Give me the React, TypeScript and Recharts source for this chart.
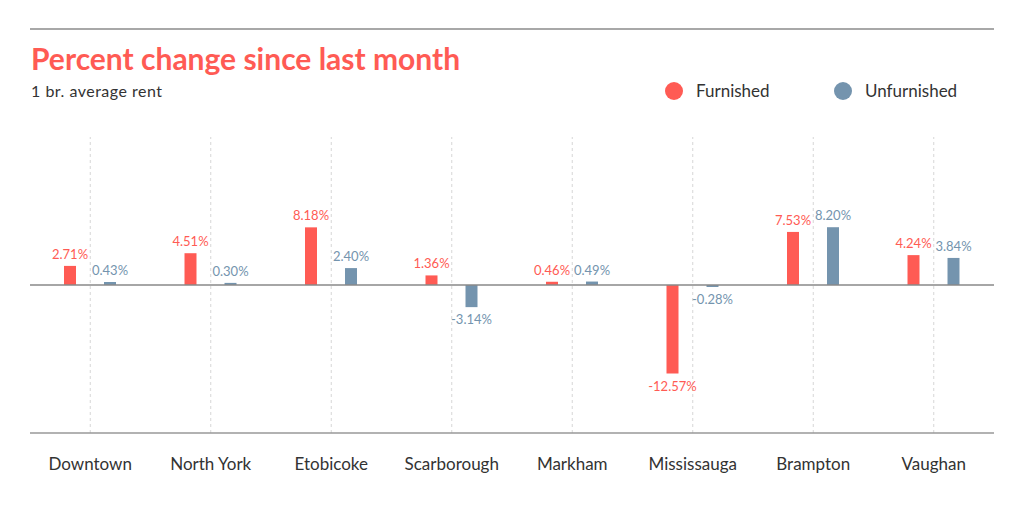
import { Bar, BarChart, LabelList, ReferenceLine, XAxis, YAxis } from 'recharts'

const cities = ['Downtown', 'North York', 'Etobicoke', 'Scarborough', 'Markham', 'Mississauga', 'Brampton', 'Vaughan']
const furnished = [2.71, 4.51, 8.18, 1.36, 0.46, -12.57, 7.53, 4.24]
const unfurnished = [0.43, 0.3, 2.4, -3.14, 0.49, -0.28, 8.2, 3.84]
const seriesNames = ['Furnished', 'Unfurnished']

const RED = '#FF5B54'
const BLUE = '#7494AE'
const FONT = 'Lato, "Open Sans", sans-serif'

const data = cities.map((city, i) => ({ city, furnished: furnished[i], unfurnished: unfurnished[i] }))

const makeLabel = (color: string) => (props: any) => {
    const { x, y, width, height, value } = props
    const top = Math.min(y, y + height)
    const bottom = Math.max(y, y + height)
    const cx = x + width / 2
    const ty = value >= 0 ? top - 7 : bottom + 17
    return (
        <text x={cx} y={ty} textAnchor="middle" fill={color} fontSize={13} fontFamily={FONT}>
            {value.toFixed(2)}%
        </text>
    )
}

const App = () => {
    const colors = [RED, BLUE]
    return (
        <div style={{ position: 'absolute', left: 0, top: 0, width: 1024, height: 505, background: '#fff', fontFamily: FONT }}>
            <div style={{ position: 'absolute', left: 30, top: 28, width: 964, height: 2, background: '#a8a8a8' }} />
            <div style={{ position: 'absolute', left: 31, top: 43, fontSize: 30, fontWeight: 700, color: RED, lineHeight: 1 }}>
                Percent change since last month
            </div>
            <div style={{ position: 'absolute', left: 31, top: 83, fontSize: 16, letterSpacing: 0.5, color: '#333', lineHeight: 1 }}>
                1 br. average rent
            </div>
            <div style={{ position: 'absolute', left: 665, top: 82, display: 'flex' }}>
                {seriesNames.map((name, i) => (
                    <div key={name} style={{ display: 'flex', alignItems: 'center', width: i === 0 ? 169 : 'auto' }}>
                        <span style={{ width: 18, height: 18, borderRadius: 9, background: colors[i], display: 'inline-block', marginRight: 13 }} />
                        <span style={{ fontSize: 17, color: '#333', lineHeight: '18px' }}>{name}</span>
                    </div>
                ))}
            </div>
            <BarChart width={1024} height={505} data={data} barGap={28} margin={{ top: 137, right: 30, left: 30, bottom: 0 }}>
                <XAxis
                    dataKey="city"
                    height={72}
                    interval={0}
                    tickLine={false}
                    tickSize={0}
                    tickMargin={25}
                    axisLine={{ stroke: '#999', strokeWidth: 1.5 }}
                    tick={{ fill: '#333', fontSize: 17, fontFamily: FONT }}
                />
                <YAxis hide domain={[-21, 21]} />
                {cities.map((c) => (
                    <ReferenceLine key={c} x={c} stroke="#d6d6d6" strokeDasharray="3 3" />
                ))}
                <ReferenceLine y={0} stroke="#888" strokeWidth={1.5} />
                <Bar dataKey="furnished" name="Furnished" fill={RED} barSize={12} isAnimationActive={false}>
                    <LabelList dataKey="furnished" content={makeLabel(RED)} />
                </Bar>
                <Bar dataKey="unfurnished" name="Unfurnished" fill={BLUE} barSize={12} isAnimationActive={false}>
                    <LabelList dataKey="unfurnished" content={makeLabel(BLUE)} />
                </Bar>
            </BarChart>
        </div>
    )
}

export default App
